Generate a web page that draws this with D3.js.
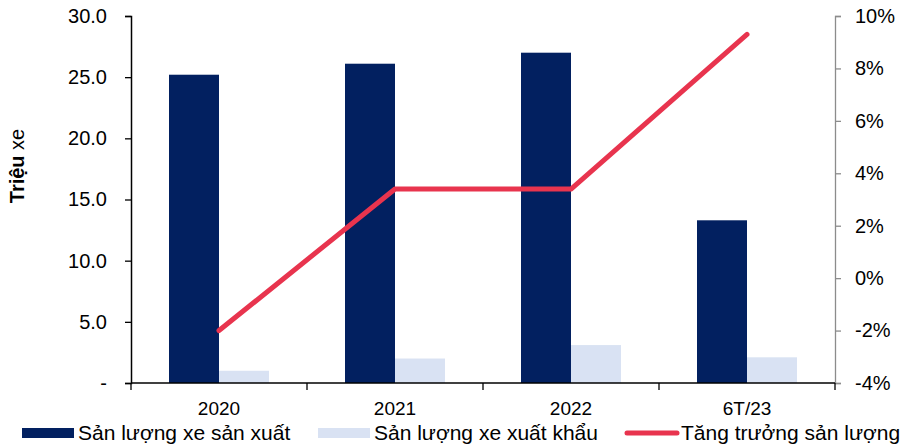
<!DOCTYPE html>
<html>
<head>
<meta charset="utf-8">
<script src="https://cdn.jsdelivr.net/npm/d3@7"></script>
<style>
  html, body { margin: 0; padding: 0; background: #fff; }
  svg { display: block; font-family: "Liberation Sans", Arial, sans-serif; }
</style>
</head>
<body>
<svg id="chart" width="906" height="448"></svg>
<script>
// Vehicle output (million units), exports, and output growth (%)
const categories = ["2020", "2021", "2022", "6T/23"];
const production = [25.2, 26.1, 27.0, 13.3];
const exports = [1.0, 2.0, 3.1, 2.1];
const growth = [-2.0, 3.4, 3.4, 9.3];
const leftTicks = [0, 5, 10, 15, 20, 25, 30];
const rightTicks = [-4, -2, 0, 2, 4, 6, 8, 10];
const seriesNames = ["Sản lượng xe sản xuất", "Sản lượng xe xuất khẩu", "Tăng trưởng sản lượng"];

const colors = { prod: "#022060", exp: "#D9E2F3", growth: "#E8344E" };

const svg = d3.select("#chart");
const m = { left: 131, right: 835, top: 16, bottom: 383 };

const x = d3.scaleBand().domain(categories).range([m.left, m.right]).paddingInner(0).paddingOuter(0);
const yL = d3.scaleLinear().domain([0, 30]).range([m.bottom, m.top]);
const yR = d3.scaleLinear().domain([-4, 10]).range([m.bottom, m.top]);
const barW = 50;

// Bars
const g = svg.append("g");
categories.forEach((c, i) => {
  const cx = x(c) + x.bandwidth() / 2;
  g.append("rect")
    .attr("x", cx - barW).attr("width", barW)
    .attr("y", yL(production[i])).attr("height", yL(0) - yL(production[i]))
    .attr("fill", colors.prod);
  g.append("rect")
    .attr("x", cx).attr("width", barW)
    .attr("y", yL(exports[i])).attr("height", yL(0) - yL(exports[i]))
    .attr("fill", colors.exp);
});

// Growth line
const line = d3.line()
  .x((d, i) => x(categories[i]) + x.bandwidth() / 2)
  .y(d => yR(d));
svg.append("path")
  .datum(growth)
  .attr("d", line)
  .attr("fill", "none")
  .attr("stroke", colors.growth)
  .attr("stroke-width", 5)
  .attr("stroke-linecap", "round")
  .attr("stroke-linejoin", "round");

// Left axis
const leftAxis = d3.axisLeft(yL).tickValues(leftTicks).tickSize(6).tickPadding(18)
  .tickFormat(d => d === 0 ? "-" : d3.format(".1f")(d));
const la = svg.append("g").attr("transform", `translate(${m.left},0)`).call(leftAxis);
la.select(".domain").attr("stroke", "#000").attr("stroke-width", 1.5);
la.selectAll(".tick line").attr("stroke", "#000").attr("stroke-width", 1.3);
la.selectAll(".tick text").attr("font-size", 20).attr("fill", "#000");

// Right axis
const rightAxis = d3.axisRight(yR).tickValues(rightTicks).tickSize(6).tickPadding(14)
  .tickFormat(d => d + "%");
const ra = svg.append("g").attr("transform", `translate(${m.right},0)`).call(rightAxis);
ra.select(".domain").attr("stroke", "#8c8c8c").attr("stroke-width", 1.3);
ra.selectAll(".tick line").attr("stroke", "#8c8c8c").attr("stroke-width", 1.3);
ra.selectAll(".tick text").attr("font-size", 20).attr("fill", "#000");

// Bottom axis with ticks at category boundaries
const xa = svg.append("g").attr("transform", `translate(0,${m.bottom})`);
xa.append("line").attr("x1", m.left).attr("x2", m.right).attr("stroke", "#000").attr("stroke-width", 1.5);
const bounds = categories.map(c => x(c)).concat([x.range()[1]]);
xa.selectAll("line.tk").data(bounds).enter().append("line")
  .attr("class", "tk")
  .attr("x1", d => d).attr("x2", d => d).attr("y1", 0).attr("y2", 7)
  .attr("stroke", "#000").attr("stroke-width", 1.3);
xa.selectAll("text").data(categories).enter().append("text")
  .attr("x", d => x(d) + x.bandwidth() / 2)
  .attr("y", 32)
  .attr("text-anchor", "middle")
  .attr("font-size", 19)
  .text(d => d);

// Left axis title
const title = svg.append("text")
  .attr("transform", "translate(24,166) rotate(-90)")
  .attr("text-anchor", "middle")
  .attr("font-size", 20);
title.append("tspan").attr("font-weight", "bold").text("Triệu");
title.append("tspan").text(" xe");

// Legend
const legY = 433;
const leg = svg.append("g");
const items = [
  { x: 22, type: "rect", color: colors.prod, label: seriesNames[0] },
  { x: 318, type: "rect", color: colors.exp, label: seriesNames[1] },
  { x: 625, type: "line", color: colors.growth, label: seriesNames[2] }
];
items.forEach(it => {
  if (it.type === "rect") {
    leg.append("rect").attr("x", it.x).attr("y", legY - 5).attr("width", 52).attr("height", 10).attr("fill", it.color);
  } else {
    leg.append("line").attr("x1", it.x + 2).attr("x2", it.x + 52).attr("y1", legY).attr("y2", legY)
      .attr("stroke", it.color).attr("stroke-width", 5).attr("stroke-linecap", "round");
  }
  leg.append("text").attr("x", it.x + 56).attr("y", legY + 7).attr("font-size", 21).text(it.label);
});
</script>
</body>
</html>
